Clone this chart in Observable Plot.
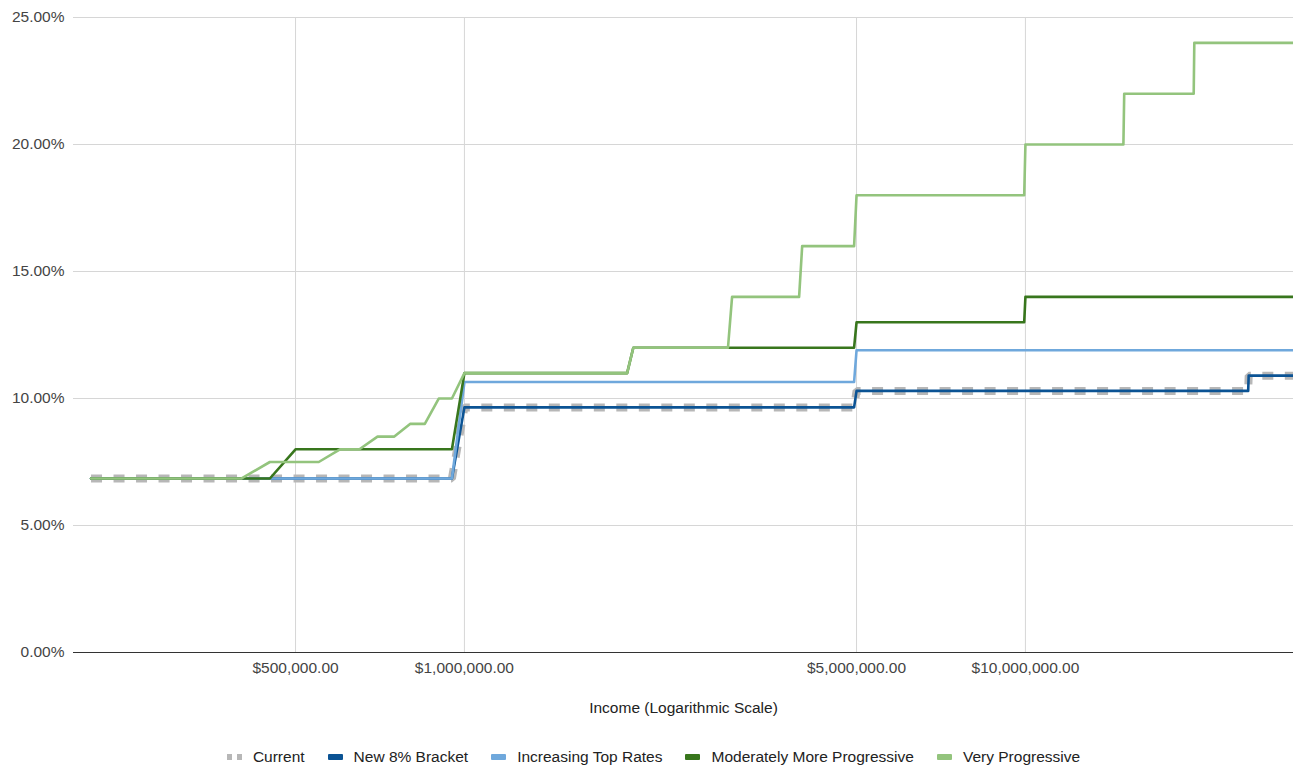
<!DOCTYPE html>
<html>
<head>
<meta charset="utf-8">
<script src="https://cdn.jsdelivr.net/npm/d3@7"></script>
<script src="https://cdn.jsdelivr.net/npm/@observablehq/plot@0.6"></script>
<style>
  html, body { margin: 0; padding: 0; background: #fff; }
  #chart { width: 1293px; height: 740px; }
  #legend { position: absolute; left: 0; top: 747px; width: 1293px; height: 20px; display: flex; justify-content: center; align-items: center;
            font-family: "Liberation Sans", Arial, sans-serif; font-size: 15.5px; color: #222; padding-left: 14px; box-sizing: border-box; }
  .item { display: flex; align-items: center; margin: 0 11.5px; }
  .sw { width: 15px; height: 6px; border-radius: 1px; margin-right: 11px; }
  .dsw { width: 15px; height: 6px; margin-right: 11px; display: flex; justify-content: space-between; }
  .dsw span { width: 5px; height: 6px; background: #b7b7b7; }
</style>
</head>
<body>
<div id="chart"></div>
<div id="legend"></div>
<script>
// ---- data ----
const seriesNames = ["Current", "New 8% Bracket", "Increasing Top Rates", "Moderately More Progressive", "Very Progressive"];
const seriesColors = ["#b7b7b7", "#0b5394", "#6fa8dc", "#38761d", "#93c47d"];

const currentIncome = [216000, 950000, 1000000, 4950000, 5000000, 24950000, 25000000, 30000000];
const currentRate   = [6.85, 6.85, 9.65, 9.65, 10.3, 10.3, 10.9, 10.9];

const new8Income = [216000, 950000, 1000000, 4950000, 5000000, 24950000, 25000000, 30000000];
const new8Rate   = [6.85, 6.85, 9.65, 9.65, 10.3, 10.3, 10.9, 10.9];

const topRatesIncome = [216000, 950000, 1000000, 4950000, 5000000, 30000000];
const topRatesRate   = [6.85, 6.85, 10.65, 10.65, 11.9, 11.9];

const moderateIncome = [216000, 450000, 500000, 950000, 1000000, 1950000, 2000000, 4950000, 5000000, 9950000, 10000000, 30000000];
const moderateRate   = [6.85, 6.85, 8, 8, 11, 11, 12, 12, 13, 13, 14, 14];

const veryIncome = [216000, 400000, 450000, 550000, 600000, 650000, 700000, 750000, 800000, 850000, 900000, 950000, 1000000,
                    1950000, 2000000, 2950000, 3000000, 3950000, 4000000, 4950000, 5000000, 9950000, 10000000,
                    14950000, 15000000, 19950000, 20000000, 30000000];
const veryRate   = [6.85, 6.85, 7.5, 7.5, 8, 8, 8.5, 8.5, 9, 9, 10, 10, 11,
                    11, 12, 12, 14, 14, 16, 16, 18, 18, 20,
                    20, 22, 22, 24, 24];

const xTicks = [500000, 1000000, 5000000, 10000000];
const yTicks = [0, 5, 10, 15, 20, 25];
const xTitle = "Income (Logarithmic Scale)";

// ---- build table ----
const incomes = [currentIncome, new8Income, topRatesIncome, moderateIncome, veryIncome];
const rates = [currentRate, new8Rate, topRatesRate, moderateRate, veryRate];
const table = [];
seriesNames.forEach((name, i) => {
  incomes[i].forEach((inc, j) => table.push({series: name, income: inc, rate: rates[i][j]}));
});
const bySeries = name => table.filter(d => d.series === name);

const font = '"Liberation Sans", Arial, sans-serif';

const chart = Plot.plot({
  width: 1293,
  height: 740,
  marginLeft: 73,
  marginRight: 0,
  marginTop: 17,
  marginBottom: 88,
  style: {fontFamily: font, fontSize: "15.5px", color: "#444", background: "#fff", overflow: "visible"},
  x: {type: "log", domain: [201000, 30050000]},
  y: {domain: [0, 25]},
  marks: [
    Plot.gridY(yTicks, {stroke: "#d6d6d6", strokeOpacity: 1, strokeWidth: 1}),
    Plot.gridX(xTicks, {stroke: "#d6d6d6", strokeOpacity: 1, strokeWidth: 1}),
    Plot.axisY(yTicks, {tickSize: 0, tickPadding: 9, tickFormat: d => d.toFixed(2) + "%", label: null, fill: "#444"}),
    Plot.axisX(xTicks, {tickSize: 0, tickPadding: 9, tickFormat: d => "$" + d3.format(",.2f")(d), label: null, fill: "#444"}),
    Plot.ruleY([0], {stroke: "#333", strokeWidth: 1}),
    Plot.line(bySeries(seriesNames[0]), {x: "income", y: "rate", stroke: seriesColors[0], strokeWidth: 8, strokeDasharray: "11,11.5", strokeLinecap: "butt", strokeLinejoin: "miter"}),
    Plot.line(bySeries(seriesNames[1]), {x: "income", y: "rate", stroke: seriesColors[1], strokeWidth: 2.6}),
    Plot.line(bySeries(seriesNames[2]), {x: "income", y: "rate", stroke: seriesColors[2], strokeWidth: 2.6}),
    Plot.line(bySeries(seriesNames[3]), {x: "income", y: "rate", stroke: seriesColors[3], strokeWidth: 2.6}),
    Plot.line(bySeries(seriesNames[4]), {x: "income", y: "rate", stroke: seriesColors[4], strokeWidth: 2.6}),
    Plot.text([xTitle], {frameAnchor: "bottom", dy: 60, text: d => d, fill: "#222", fontSize: 15.5})
  ]
});
document.getElementById("chart").append(chart);

// ---- legend ----
const legend = document.getElementById("legend");
seriesNames.forEach((name, i) => {
  const item = document.createElement("div");
  item.className = "item";
  let sw;
  if (i === 0) {
    sw = document.createElement("div");
    sw.className = "dsw";
    sw.innerHTML = "<span></span><span></span>";
  } else {
    sw = document.createElement("div");
    sw.className = "sw";
    sw.style.background = seriesColors[i];
  }
  const label = document.createElement("span");
  label.textContent = name;
  item.append(sw, label);
  legend.append(item);
});
</script>
</body>
</html>
